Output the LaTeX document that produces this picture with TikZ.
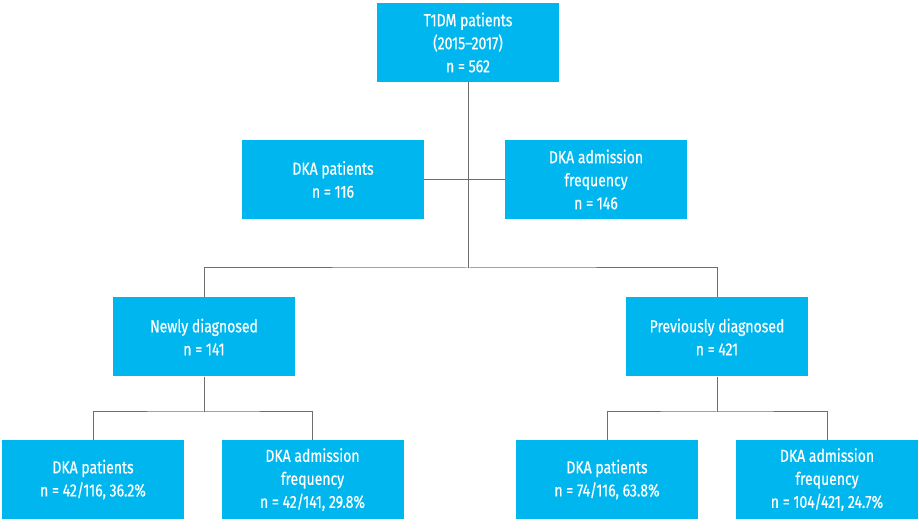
\documentclass[tikz,border=0pt]{standalone}
\usepackage{fontspec}
\setmainfont[FakeStretch=0.8, FakeBold=0.6]{Fira Sans}
\definecolor{boxblue}{HTML}{00B6EF}
\definecolor{linegrey}{HTML}{6E6E6E}
\tikzset{
  box/.style={fill=boxblue, text=white, minimum width=182pt, minimum height=79pt,
    inner sep=0pt, align=center, font=\fontsize{17.5}{23}\selectfont},
  link/.style={draw=linegrey, line width=1pt}
}
\begin{document}
\begin{tikzpicture}[x=1pt,y=1pt]
\useasboundingbox (0,0) rectangle (919,529);
\node[box] (t1dm) at (468,486.5) {T1DM patients\\(2015--2017)\\n = 562};
\node[box] (dkapat) at (333,349.5) {DKA patients\\n = 116};
\node[box] (dkafreq) at (596,349.5) {DKA admission\\frequency\\n = 146};
\node[box] (newdiag) at (204,192) {Newly diagnosed\\n = 141};
\node[box] (prevdiag) at (717,192) {Previously diagnosed\\n = 421};
\node[box] (ndpat) at (93,49.5) {DKA patients\\n = 42/116, 36.2\%};
\node[box] (ndfreq) at (312.5,49.5) {DKA admission\\frequency\\n = 42/141, 29.8\%};
\node[box] (pdpat) at (607,49.5) {DKA patients\\n = 74/116, 63.8\%};
\node[box] (pdfreq) at (827,49.5) {DKA admission\\frequency\\n = 104/421, 24.7\%};
\coordinate (split) at (468,261);
\coordinate (ndsplit) at (204,117);
\coordinate (pdsplit) at (717,117);
\draw[link] (t1dm.south) -- (split);
\draw[link] (dkapat.east) -- (dkafreq.west);
\draw[link] (newdiag.north) |- (split) -| (prevdiag.north);
\draw[link] (newdiag.south) -- (ndsplit);
\draw[link] (ndpat.north) |- (ndsplit) -| (ndfreq.north);
\draw[link] (prevdiag.south) -- (pdsplit);
\draw[link] (pdpat.north) |- (pdsplit) -| (pdfreq.north);
\end{tikzpicture}
\end{document}
